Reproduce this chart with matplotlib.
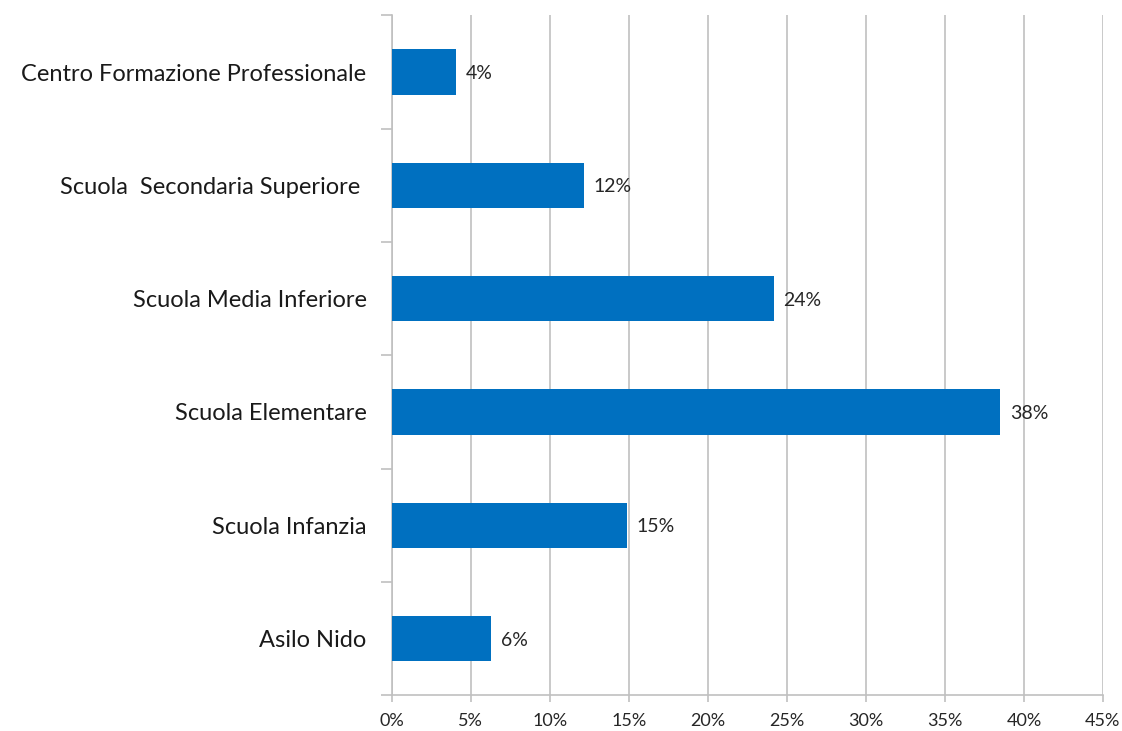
import matplotlib.pyplot as plt
from matplotlib.ticker import FixedLocator, PercentFormatter

plt.rcParams['font.family'] = ['Lato', 'DejaVu Sans']

# school levels, bottom to top
categories = ['Asilo Nido', 'Scuola Infanzia', 'Scuola Elementare',
              'Scuola Media Inferiore', 'Scuola  Secondaria Superiore ',
              'Centro Formazione Professionale']
shares = [6.3, 14.9, 38.5, 24.2, 12.2, 4.1]

bar_color = '#0070C0'
grid_color = '#C0C0C0'

fig = plt.figure(figsize=(11.22, 7.31), dpi=100)
ax = fig.add_axes([0.349, 0.049, 0.634, 0.930])

y = range(len(categories))
bars = ax.barh(y, shares, height=0.4, color=bar_color, zorder=3)

for b, v in zip(bars, shares):
    ax.text(b.get_width() + 0.6, b.get_y() + b.get_height() / 2, f'{v:.0f}%',
            va='center_baseline', ha='left', fontsize=14, color='#262626')

ax.set_xlim(0, 45)
ax.set_ylim(-0.5, len(categories) - 0.5)
ax.set_xticks(range(0, 46, 5))
ax.xaxis.set_major_formatter(PercentFormatter(decimals=0))
ax.grid(axis='x', color=grid_color, linewidth=1.2, zorder=0)

ax.set_yticks(list(y))
ax.set_yticklabels(categories, fontsize=17, color='#1a1a1a')
ax.yaxis.set_minor_locator(FixedLocator([i - 0.5 for i in range(len(categories) + 1)]))
ax.tick_params(axis='y', which='major', length=0, pad=18)
ax.tick_params(axis='y', which='minor', length=8, color=grid_color, width=1.2)
ax.tick_params(axis='x', length=5, color=grid_color, width=1.2,
               labelsize=13, labelcolor='#262626', pad=8)

for side in ['top', 'right']:
    ax.spines[side].set_visible(False)
for side in ['left', 'bottom']:
    ax.spines[side].set_color(grid_color)
    ax.spines[side].set_linewidth(1.2)

fig.savefig('out.png', dpi=100)
